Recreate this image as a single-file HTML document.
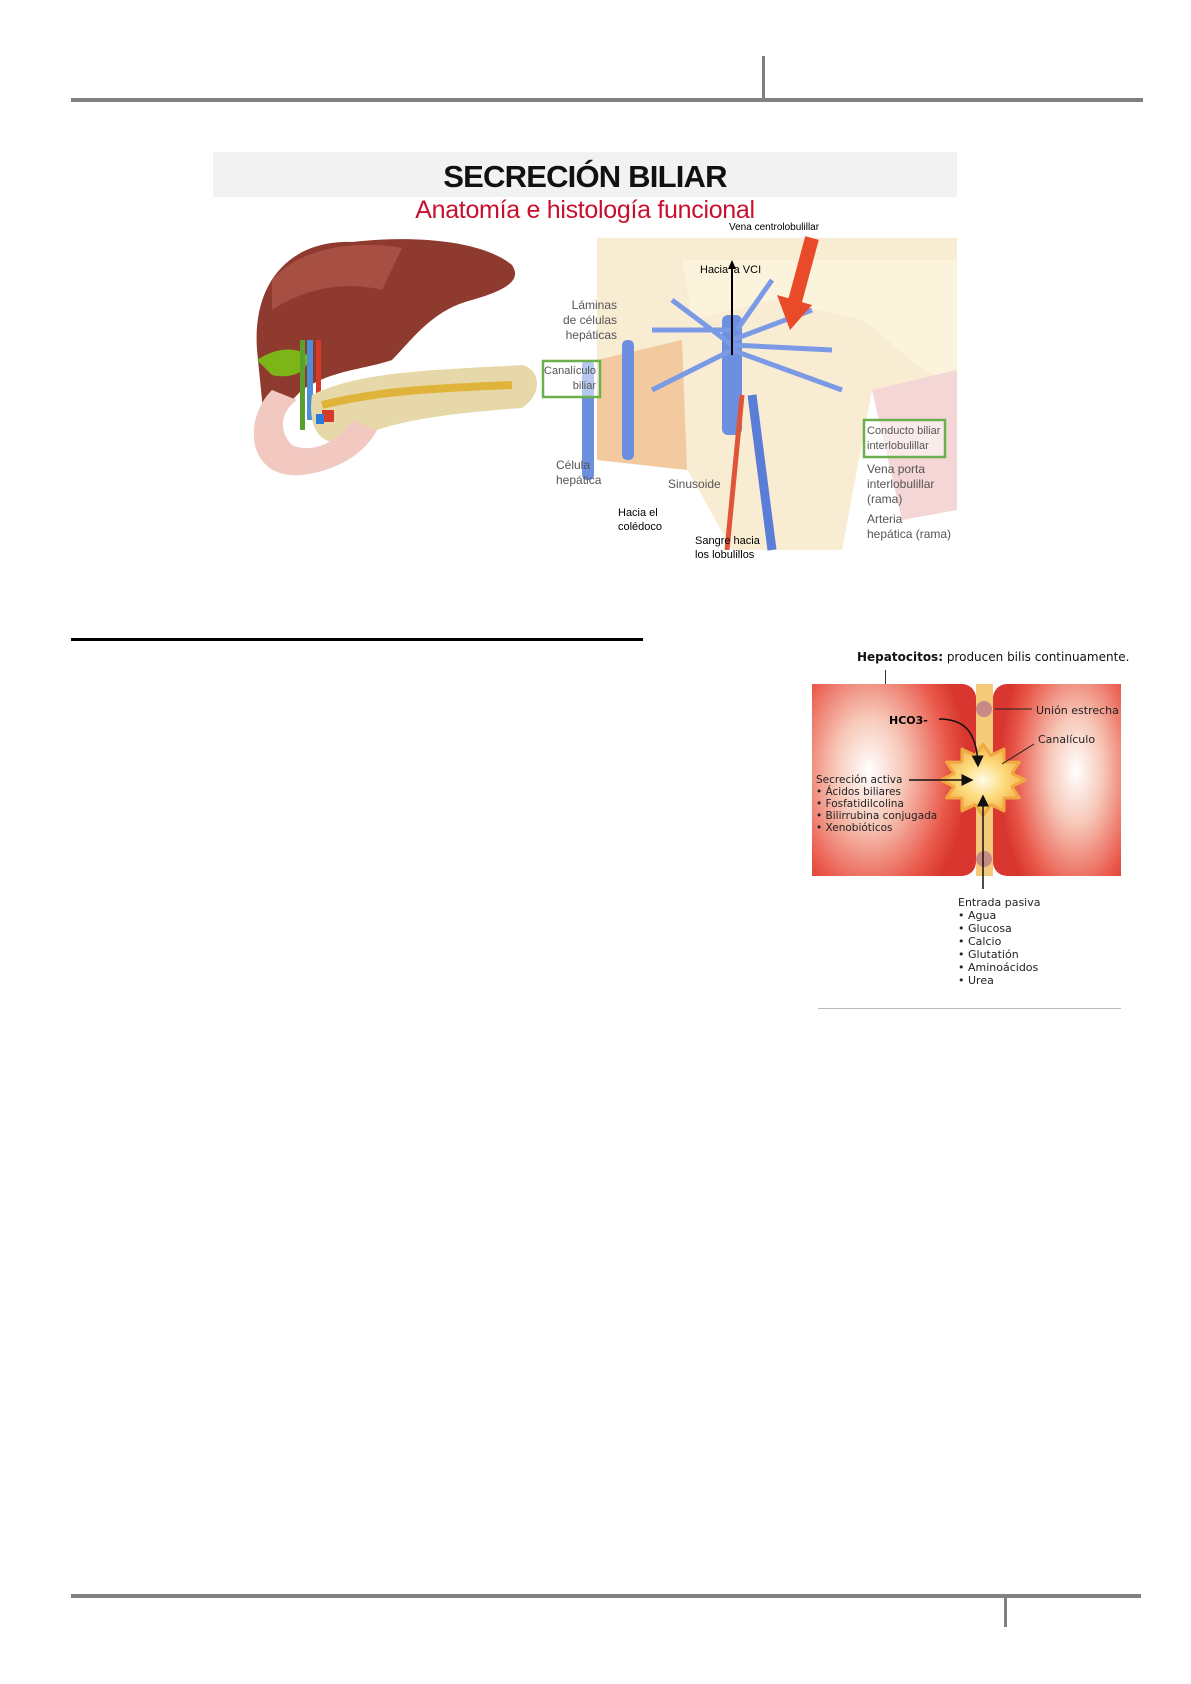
<!DOCTYPE html>
<html><head><meta charset="utf-8"><style>
body{margin:0;background:#fff;}
#p{position:relative;width:1191px;height:1684px;overflow:hidden;font-family:"Liberation Sans",sans-serif;}
.a{position:absolute;}
.s{font-family:"DejaVu Sans","Liberation Sans",sans-serif;font-size:11px;color:#222;}
.n{font-family:'Liberation Sans Narrow','Liberation Sans',sans-serif;}
</style></head><body><div id="p">
<div class="a" style="left:71px;top:98px;width:1072px;height:4px;background:#808080"></div>
<div class="a" style="left:762px;top:56px;width:3px;height:44px;background:#808080"></div>
<div class="a" style="left:213px;top:152px;width:744px;height:45px;background:#f2f2f2"></div>
<div class="a" style="left:213px;top:159px;width:744px;text-align:center;font-weight:bold;font-size:31px;letter-spacing:-0.8px;color:#111">SECRECIÓN BILIAR</div>
<div class="a" style="left:213px;top:196px;width:744px;text-align:center;font-size:25px;color:#c8102e;letter-spacing:-0.3px">Anatomía e histología funcional</div>

<svg class="a" style="left:212px;top:220px" width="760" height="345">
<path d="M45 130 C40 60 80 20 140 22 C200 15 270 20 300 45 C310 60 295 70 260 80 C220 90 200 120 180 140 C150 150 120 150 90 170 C70 190 55 210 52 200 Z" fill="#8f3a2e"/>
<path d="M60 60 C90 25 150 20 190 28 L170 70 C130 60 90 70 60 90Z" fill="#b0584c" opacity=".7"/>
<path d="M45 140 C60 130 80 125 95 135 C100 150 80 160 60 155Z" fill="#7cb518"/>
<rect x="95" y="120" width="6" height="80" fill="#4a8fd8"/><rect x="104" y="120" width="5" height="80" fill="#d83a2a"/><rect x="88" y="120" width="5" height="90" fill="#5aa02c"/>
<path d="M100 175 C150 150 230 150 310 145 C330 150 330 175 310 188 C240 193 180 200 140 220 C110 230 95 210 100 175Z" fill="#e6d8a8"/>
<path d="M110 185 C170 170 230 168 300 165" stroke="#e0b43a" stroke-width="8" fill="none"/>
<path d="M60 170 C30 200 35 260 90 255 C130 250 155 230 165 210 L140 200 C130 220 100 235 80 225 C65 210 70 190 85 180Z" fill="#f1c9c0"/>
<rect x="110" y="190" width="12" height="12" fill="#d83a2a"/><rect x="104" y="194" width="8" height="10" fill="#2a7ad8"/>
<path d="M385 18 L745 18 L745 165 L660 170 L630 330 L520 330 L470 240 L385 230Z" fill="#f8ecd2"/>
<path d="M470 40 L745 40 L745 165 C700 150 680 120 650 100 L560 80 L480 100Z" fill="#fbf3dc"/>
<path d="M385 140 L470 120 L475 250 L385 240Z" fill="#f3c9a0"/>
<path d="M660 170 L745 150 L745 290 L690 300Z" fill="#f5d6d6"/>
<rect x="370" y="140" width="12" height="120" rx="5" fill="#6d8fe0"/>
<rect x="410" y="120" width="12" height="120" rx="5" fill="#6d8fe0"/>
<rect x="510" y="95" width="20" height="120" rx="6" fill="#6d8fe0"/>
<path d="M440 110 L520 110 M440 170 L520 130 M460 80 L520 125 M600 90 L520 120 M620 130 L520 125 M630 170 L520 130 M560 60 L525 110" stroke="#7a9ae6" stroke-width="5"/>
<path d="M540 175 L560 330" stroke="#5a7ed8" stroke-width="9"/>
<path d="M530 175 L515 330" stroke="#e0553a" stroke-width="5"/>
<path d="M600 18 L582 85" stroke="#e84a2a" stroke-width="14"/>
<path d="M565 75 L600 85 L578 110Z" fill="#e84a2a"/>
<path d="M520 135 L520 45" stroke="#000" stroke-width="2"/><path d="M516 49 L520 40 L524 49Z"/>
<rect x="331" y="141" width="57" height="36" fill="#fff" fill-opacity=".5" stroke="#6ab04c" stroke-width="2.5"/>
<rect x="652" y="200" width="81" height="37" fill="#fff" fill-opacity=".5" stroke="#6ab04c" stroke-width="2.5"/>
</svg>
<div class="a n" style="left:729px;top:222px;font-size:10px">Vena centrolobulillar</div>
<div class="a n" style="left:700px;top:264px;font-size:11px">Hacia la VCI</div>
<div class="a n" style="left:520px;top:298px;width:97px;font-size:12px;color:#555;text-align:right;line-height:15px">Láminas<br>de células<br>hepáticas</div>
<div class="a n" style="left:505px;top:364px;font-size:11px;color:#555;text-align:right;line-height:15px;width:91px">Canalículo<br>biliar</div>
<div class="a n" style="left:867px;top:424px;font-size:11px;color:#555;line-height:15px">Conducto biliar<br>interlobulillar</div>
<div class="a n" style="left:867px;top:462px;font-size:12px;color:#555;line-height:15px">Vena porta<br>interlobulillar<br>(rama)</div>
<div class="a n" style="left:867px;top:512px;font-size:12px;color:#555;line-height:15px">Arteria<br>hepática (rama)</div>
<div class="a n" style="left:556px;top:458px;font-size:12px;color:#555;line-height:15px">Célula<br>hepática</div>
<div class="a n" style="left:668px;top:477px;font-size:12px;color:#555">Sinusoide</div>
<div class="a n" style="left:618px;top:506px;font-size:11px;line-height:14px">Hacia el<br>colédoco</div>
<div class="a n" style="left:695px;top:534px;font-size:11px;line-height:14px">Sangre hacia<br>los lobulillos</div>

<div class="a" style="left:71px;top:638px;width:572px;height:3px;background:#000"></div>

<div class="a" style="left:857px;top:650px;font-family:'DejaVu Sans',sans-serif;font-size:12px;color:#111"><b>Hepatocitos:</b> producen bilis continuamente.</div>
<div class="a" style="left:885px;top:670px;width:1px;height:14px;background:#333"></div>
<div class="a" style="left:812px;top:684px;width:164px;height:192px;border-radius:0 14px 14px 0;background:radial-gradient(ellipse 60% 80% at 35% 45%,#fff 0%,#f7c8b8 35%,#e9584a 80%,#d8362e 100%)"></div>
<div class="a" style="left:993px;top:684px;width:128px;height:192px;border-radius:14px 0 0 14px;background:radial-gradient(ellipse 60% 80% at 65% 45%,#fff 0%,#f7c8b8 35%,#e9584a 80%,#d8362e 100%)"></div>
<div class="a" style="left:976px;top:684px;width:17px;height:192px;background:#f5c97a"></div>
<svg class="a" style="left:812px;top:684px;overflow:visible" width="309" height="210">
<defs><radialGradient id="g"><stop offset="0" stop-color="#fffbe8"/><stop offset=".5" stop-color="#fcdc80"/><stop offset="1" stop-color="#f5b24a"/></radialGradient>
<marker id="m" markerWidth="8" markerHeight="8" refX="7" refY="4" orient="auto"><path d="M0 0 L8 4 L0 8Z" fill="#111"/></marker></defs>
<polygon points="213,96 200,102.6 207.4,113.9 192.2,114 192,126.9 178.8,120.6 171,131.7 163.2,120.6 150,126.9 149.8,114 134.6,113.9 142,102.6 129,96 142,89.4 134.6,78.1 149.8,78 150,65.1 163.2,71.4 171,60.3 178.8,71.4 192,65.1 192.2,78 207.4,78.1 200,89.4" fill="url(#g)" stroke="#f0a840" stroke-width="3" stroke-linejoin="round"/>
<circle cx="172" cy="25" r="8" fill="#c98a86"/>
<circle cx="172" cy="175" r="8" fill="#c98a86"/>
<line x1="183" y1="25" x2="220" y2="25" stroke="#222" stroke-width="1"/>
<line x1="190" y1="80" x2="222" y2="60" stroke="#222" stroke-width="1"/>
<path d="M127 35 C150 35 165 45 166 82" stroke="#111" stroke-width="1.5" fill="none" marker-end="url(#m)"/>
<line x1="97" y1="96" x2="160" y2="96" stroke="#111" stroke-width="1.5" marker-end="url(#m)"/>
<line x1="171" y1="205" x2="171" y2="112" stroke="#111" stroke-width="1.5" marker-end="url(#m)"/>
</svg>
<div class="a s" style="left:1036px;top:704px">Unión estrecha</div>
<div class="a s" style="left:1038px;top:733px">Canalículo</div>
<div class="a" style="left:889px;top:714px;font-family:'DejaVu Sans',sans-serif;font-size:11px;font-weight:bold">HCO3-</div>
<div class="a s" style="left:816px;top:774px;line-height:12px;font-size:10.5px">Secreción activa<br>• Ácidos biliares<br>• Fosfatidilcolina<br>• Bilirrubina conjugada<br>• Xenobióticos</div>
<div class="a s" style="left:958px;top:896px;line-height:13px;font-size:11px">Entrada pasiva<br>• Agua<br>• Glucosa<br>• Calcio<br>• Glutatión<br>• Aminoácidos<br>• Urea</div>
<div class="a" style="left:818px;top:1008px;width:303px;height:1px;background:#bbb"></div>

<div class="a" style="left:71px;top:1594px;width:1070px;height:4px;background:#808080"></div>
<div class="a" style="left:1004px;top:1597px;width:3px;height:30px;background:#808080"></div>
</div></body></html>
